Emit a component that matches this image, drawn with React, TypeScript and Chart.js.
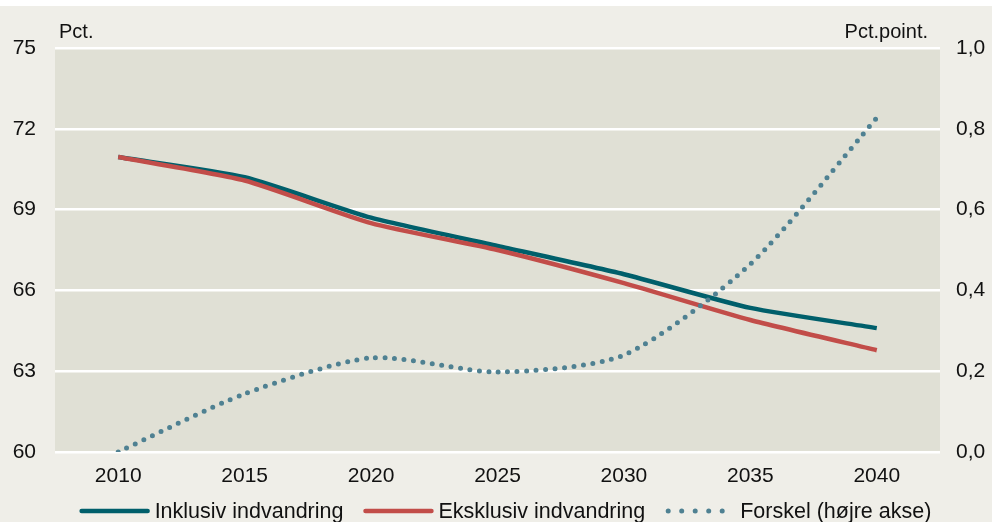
import React, { useEffect, useRef } from "react";
import { Chart, registerables } from "chart.js";

Chart.register(...registerables);

const years = ["2010", "2015", "2020", "2025", "2030", "2035", "2040"];
const inklusiv = [70.95, 70.2, 68.7, 67.65, 66.6, 65.35, 64.6];
const eksklusiv = [70.95, 70.08, 68.5, 67.5, 66.27, 64.9, 63.78];
const forskel = [0, 0.144, 0.233, 0.198, 0.24, 0.465, 0.827];
const leftTicks = [60, 63, 66, 69, 72, 75];
const rightTicks = [0, 0.2, 0.4, 0.6, 0.8, 1.0];
const seriesNames = ["Inklusiv indvandring", "Eksklusiv indvandring", "Forskel (højre akse)"];
const leftUnit = "Pct.";
const rightUnit = "Pct.point.";

const TEAL = "#005F6B";
const RED = "#C24D49";
const DOT = "#4F8192";
const PLOT_BG = "#E0E0D5";
const PAGE_BG = "#EFEEE8";
const FONT = "'Liberation Sans', Arial, sans-serif";

export default function App() {
  const ref = useRef<HTMLCanvasElement | null>(null);

  useEffect(() => {
    if (!ref.current) return;
    const bgPlugin = {
      id: "plotbg",
      beforeDraw(chart: any) {
        const { ctx, chartArea } = chart;
        ctx.save();
        ctx.fillStyle = PLOT_BG;
        ctx.fillRect(chartArea.left, chartArea.top, chartArea.right - chartArea.left, chartArea.bottom - chartArea.top);
        ctx.restore();
      },
      afterDraw(chart: any) {
        const { ctx, chartArea } = chart;
        ctx.save();
        ctx.fillStyle = "#111";
        ctx.font = `20px ${FONT}`;
        ctx.textBaseline = "alphabetic";
        ctx.textAlign = "left";
        ctx.fillText(leftUnit, chartArea.left + 4, chartArea.top - 10);
        ctx.textAlign = "right";
        ctx.fillText(rightUnit, chartArea.right - 12, chartArea.top - 10);

        // legend
        ctx.font = `21.5px ${FONT}`;
        const colors = [TEAL, RED, DOT];
        const lineW = 70;
        const gapText = 5;
        const gapItem = 20;
        const widths = seriesNames.map((n) => lineW + gapText + ctx.measureText(n).width);
        const total = widths.reduce((a, b) => a + b, 0) + gapItem * (widths.length - 1);
        let x = (chartArea.left + chartArea.right) / 2 + 8 - total / 2;
        const y = chart.height - 11;
        seriesNames.forEach((name, i) => {
          ctx.beginPath();
          ctx.strokeStyle = colors[i];
          if (i === 2) {
            ctx.lineWidth = 5;
            ctx.lineCap = "round";
            ctx.setLineDash([0, 13.5]);
            ctx.moveTo(x + 3, y);
            ctx.lineTo(x + lineW, y);
          } else {
            ctx.lineWidth = 4.5;
            ctx.lineCap = "round";
            ctx.setLineDash([]);
            ctx.moveTo(x + 2, y);
            ctx.lineTo(x + lineW - 2, y);
          }
          ctx.stroke();
          ctx.setLineDash([]);
          ctx.fillStyle = "#111";
          ctx.textAlign = "left";
          ctx.textBaseline = "middle";
          ctx.fillText(name, x + lineW + gapText, y + 1);
          x += widths[i] + gapItem;
        });
        ctx.restore();
      },
    };

    const chart = new Chart(ref.current, {
      type: "line",
      data: {
        labels: years,
        datasets: [
          {
            label: seriesNames[0],
            data: inklusiv,
            borderColor: TEAL,
            backgroundColor: TEAL,
            borderWidth: 4.5,
            pointRadius: 0,
            tension: 0.2,
            yAxisID: "y",
            order: 2,
          },
          {
            label: seriesNames[1],
            data: eksklusiv,
            borderColor: RED,
            backgroundColor: RED,
            borderWidth: 4.5,
            pointRadius: 0,
            tension: 0.2,
            yAxisID: "y",
            order: 1,
          },
          {
            label: seriesNames[2],
            data: forskel,
            borderColor: DOT,
            backgroundColor: DOT,
            borderWidth: 5,
            borderDash: [0, 9.5],
            borderCapStyle: "round",
            pointRadius: 0,
            tension: 0.25,
            yAxisID: "y1",
            order: 0,
          },
        ],
      },
      options: {
        animation: false,
        responsive: false,
        maintainAspectRatio: false,
        layout: { padding: { top: 42, bottom: 40, left: 0, right: 0 } },
        plugins: { legend: { display: false }, tooltip: { enabled: false } },
        scales: {
          x: {
            offset: true,
            grid: { display: false, drawTicks: false },
            border: { display: false },
            ticks: { color: "#111", font: { family: FONT, size: 21 }, padding: 12, maxRotation: 0 },
            afterFit(scale: any) {
              scale.height = 30;
            },
          },
          y: {
            position: "left",
            min: 60,
            max: 75,
            afterBuildTicks(scale: any) {
              scale.ticks = leftTicks.map((v) => ({ value: v }));
            },
            grid: { color: "#FFFFFF", lineWidth: 2.5, drawTicks: false },
            border: { display: false },
            ticks: { color: "#111", font: { family: FONT, size: 21 }, padding: 19 },
            afterFit(scale: any) {
              scale.width = 55;
            },
          },
          y1: {
            position: "right",
            min: 0,
            max: 1,
            afterBuildTicks(scale: any) {
              scale.ticks = rightTicks.map((v) => ({ value: v }));
            },
            grid: { display: false, drawTicks: false },
            border: { display: false },
            ticks: {
              color: "#111",
              font: { family: FONT, size: 21 },
              padding: 16,
              callback: (v: any) => Number(v).toFixed(1).replace(".", ","),
            },
            afterFit(scale: any) {
              scale.width = 52;
            },
          },
        },
      },
      plugins: [bgPlugin],
    } as any);
    return () => chart.destroy();
  }, []);

  return (
    <div style={{ position: "fixed", left: 0, top: 0, width: 992, height: 522, background: "#FFFFFF" }}>
      <div style={{ position: "absolute", left: 0, top: 6, width: 992, height: 516, background: PAGE_BG }}>
        <canvas ref={ref} width={992} height={516} style={{ display: "block", width: 992, height: 516 }} />
      </div>
    </div>
  );
}
